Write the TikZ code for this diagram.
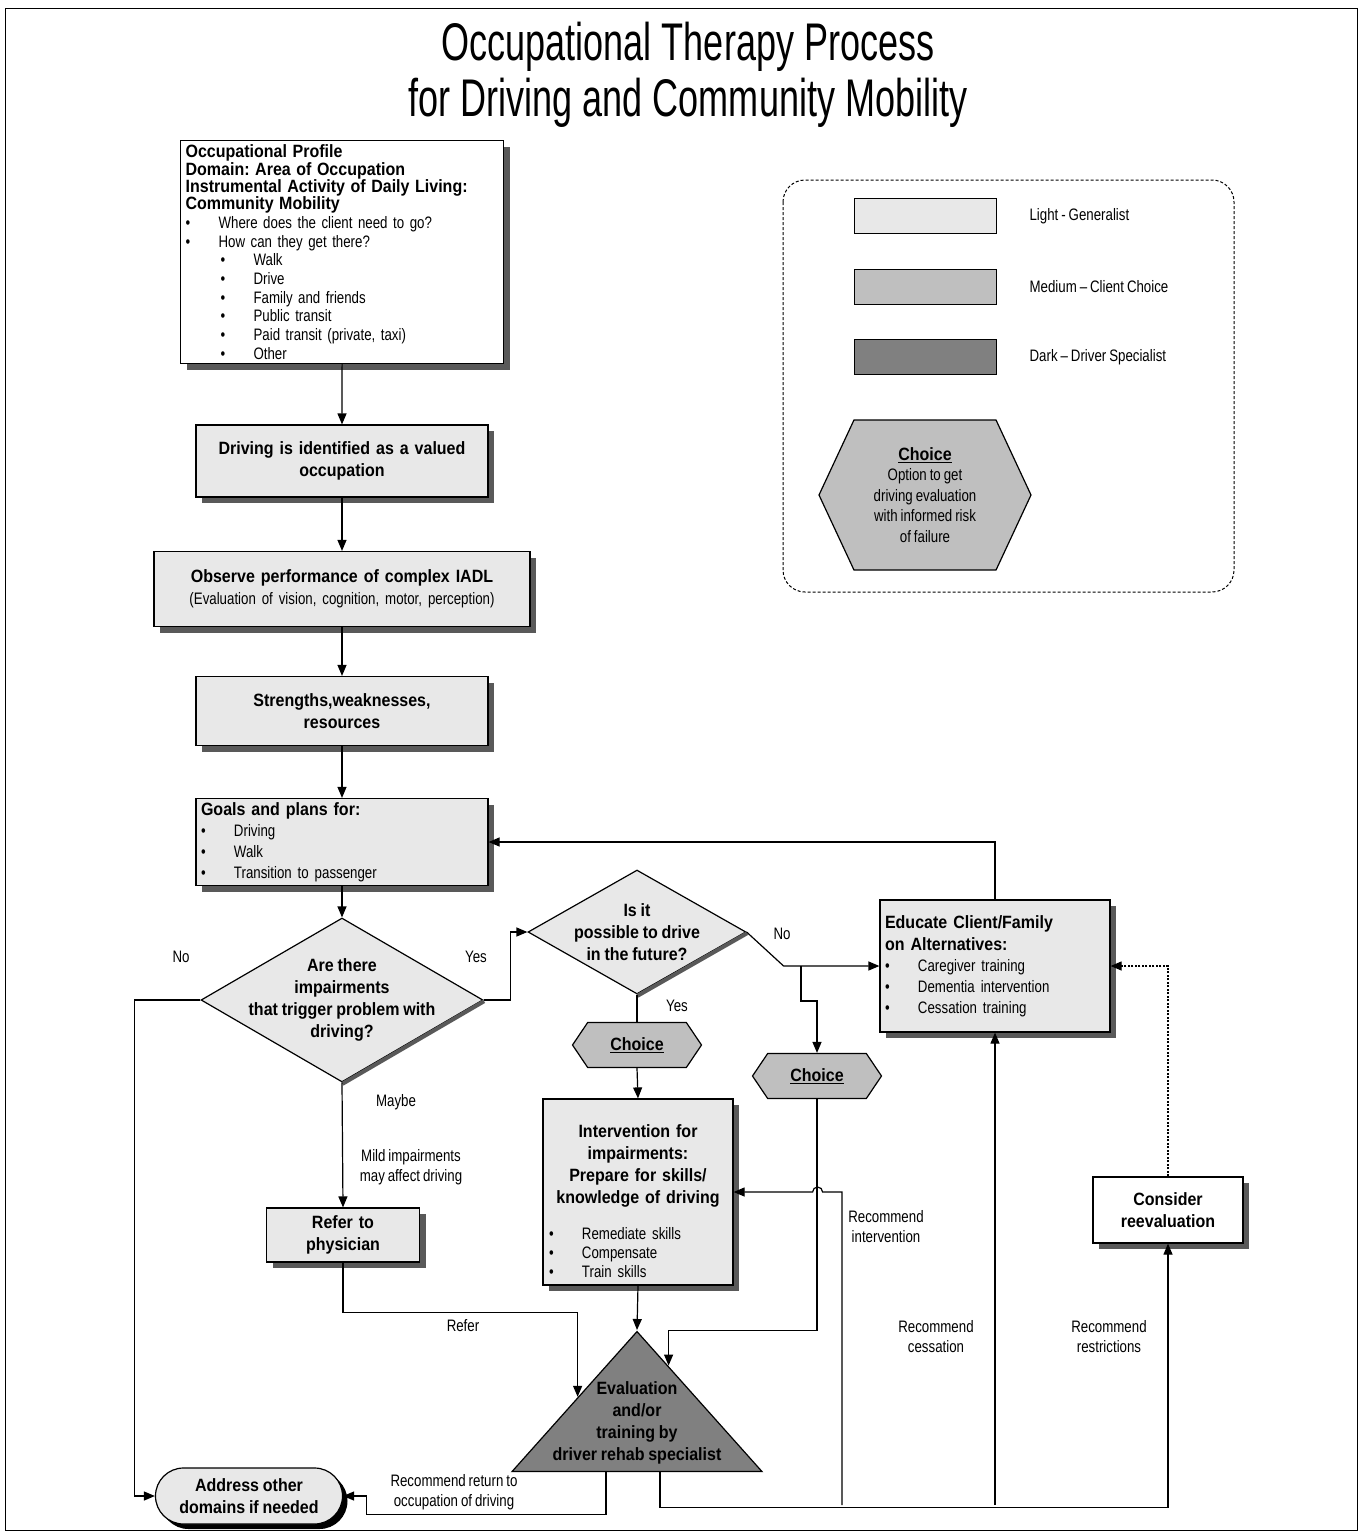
\documentclass[tikz,border=0pt]{standalone}
\usepackage{fontspec}
\setmainfont{Liberation Sans}[FakeStretch=0.8, WordSpace=0.8]
\newfontfamily\boldfam{Liberation Sans}[FakeStretch=0.9, WordSpace=0.85]
\newfontfamily\titlefont{Liberation Sans}[FakeStretch=0.68]
\usetikzlibrary{shapes.geometric,shapes.misc,shapes.symbols,shadows,calc,arrows.meta}
\frenchspacing

\newcommand{\regtxt}[1][19]{\rmfamily\mdseries\fontsize{16.6}{#1}\selectfont}
\newcommand{\boldtxt}[1][22]{\boldfam\bfseries\fontsize{17.8}{#1}\selectfont}
\newcommand{\bul}{\makebox[33pt][l]{\textbullet}}
\newcommand{\subbul}{\hspace*{35pt}\bul}

\begin{document}
\begin{tikzpicture}[x=1pt, y=-1pt, line width=1.2pt,
    every node/.style={font=\regtxt, inner sep=0pt},
    tip/.style={-{Stealth[length=11pt,width=9pt,inset=0pt]}},
    shade/.style={drop shadow={shadow xshift=6pt, shadow yshift=-6pt, fill=black!65, opacity=1}},
    edgeshade/.style={line width=4pt, black!65},
    box/.style={draw, fill=black!9, shade, align=center, font=\boldtxt, inner xsep=5pt, inner ysep=3pt},
    whitebox/.style={box, fill=white},
    decide/.style={diamond, draw, fill=black!9},
    choice/.style={signal, signal to=east and west, draw, fill=black!25, font=\boldtxt, align=center},
    lbl/.style={align=center, font={\regtxt[20]}},
    key/.style={draw, anchor=north west, minimum width=142, minimum height=35, line width=1pt}
  ]
  \useasboundingbox (0,0) rectangle (1362,1534);
  \draw[line width=1pt] (5,8) rectangle (1357,1530);

  \node[font={\titlefont\fontsize{53}{56}\selectfont}, align=center] (title) at (688,75)
    {Occupational Therapy Process\\for Driving and Community Mobility};

  % legend
  \draw[line width=1pt, dash pattern=on 3pt off 2pt, rounded corners=22] (783,180) rectangle (1234,592);
  \node[key, fill=black!9] (klight) at (854,198) {};
  \node[key, fill=black!25] (kmed) at (854,269) {};
  \node[key, fill=black!50] (kdark) at (854,339) {};
  \node[anchor=west] (tlight) at (1029,216) {Light - Generalist};
  \node[anchor=west] (tmed) at (1029,287) {Medium -- Client Choice};
  \node[anchor=west] (tdark) at (1029,357) {Dark -- Driver Specialist};
  \node[choice, minimum width=212, minimum height=150, signal pointer angle=130, font={\regtxt[20.5]}] (khex) at (925,495)
    {{\boldtxt\underline{Choice}}\\Option to get\\driving evaluation\\with informed risk\\of failure};

  % main column
  \node[whitebox, anchor=north west, minimum height=223, text width=313, align=left, font={\regtxt[18.7]}] (prof) at (180,140)
    {{\boldtxt[17.3]Occupational Profile\\Domain: Area of Occupation\\Instrumental Activity of Daily Living:\\Community Mobility\par}
     \bul Where does the client need to go?\\
     \bul How can they get there?\\
     \subbul Walk\\
     \subbul Drive\\
     \subbul Family and friends\\
     \subbul Public transit\\
     \subbul Paid transit (private, taxi)\\
     \subbul Other};
  \node[box, minimum width=292, minimum height=72, text width=280] (drv) at (342,461)
    {Driving is identified as a valued\\occupation};
  \node[box, minimum width=376, minimum height=75, text width=366] (obs) at (342,589)
    {Observe performance of complex IADL\\{\regtxt (Evaluation of vision, cognition, motor, perception)}};
  \node[box, minimum width=292, minimum height=69, text width=280] (str) at (342,711)
    {Strengths,weaknesses,\\resources};
  \node[box, minimum width=292, minimum height=87, text width=282, align=left] (goal) at (342,842)
    {Goals and plans for:\par{\regtxt[21]\bul Driving\\\bul Walk\\\bul Transition to passenger\par}};

  \node[decide, minimum width=282, minimum height=164] (imp) at (342,1000) {};
  \draw[edgeshade] ($(imp.east)+(0.5,1.2)$) -- ($(imp.south)+(0.5,1.2)$);
  \node[font=\boldtxt, align=center] (impt) at (imp) {Are there\\impairments\\that trigger problem with\\driving?};
  \node[decide, minimum width=218, minimum height=124] (fut) at (637,932) {};
  \draw[edgeshade] ($(fut.east)+(0.5,1.2)$) -- ($(fut.south)+(0.5,1.2)$);
  \node[font=\boldtxt, align=center] (futt) at (fut) {Is it\\possible to drive\\in the future?};

  \node[box, minimum width=230, minimum height=132, text width=220, align=left] (educ) at (995,966)
    {Educate Client/Family\\on Alternatives:\par{\regtxt[21]\bul Caregiver training\\\bul Dementia intervention\\\bul Cessation training\par}};

  \node[choice, minimum width=129, minimum height=45, signal pointer angle=112] (ch1) at (637,1045) {\underline{Choice}};
  \node[choice, minimum width=129, minimum height=45, signal pointer angle=112] (ch2) at (817,1076) {\underline{Choice}};

  \node[box, minimum width=190, minimum height=186] (intv) at (638,1192) {};
  \node[font=\boldtxt, text width=178, align=center] (intvt) at (638,1201)
    {Intervention for\\impairments:\\Prepare for skills/\\knowledge of driving\par\vspace{17pt}
     {\raggedright\regtxt\bul Remediate skills\\\bul Compensate\\\bul Train skills\par}};
  \node[box, minimum width=153, minimum height=54, text width=140] (ref) at (343,1235) {Refer to\\physician};
  \node[whitebox, minimum width=150, minimum height=66, text width=140] (cons) at (1168,1210) {Consider\\reevaluation};

  \node[isosceles triangle, isosceles triangle stretches, shape border rotate=90, minimum width=250, minimum height=140,
    draw, fill=black!50, anchor=apex] (evaltri) at (637,1330) {};
  \node[font=\boldtxt, align=center] (evalt) at (637,1423) {Evaluation\\and/or\\training by\\driver rehab specialist};

  \node[draw, rounded rectangle, fill=black!9, drop shadow={shadow xshift=5pt, shadow yshift=-5pt, fill=black, opacity=1},
    minimum width=187, minimum height=56, font=\boldtxt, align=center] (addr) at (249,1496) {Address other\\domains if needed};

  % labels
  \node[lbl] (lno) at (181,957) {No};
  \node[lbl] (lyes) at (476,957) {Yes};
  \node[lbl] (lno2) at (782,934) {No};
  \node[lbl] (lyes2) at (677,1006) {Yes};
  \node[lbl] (lmay) at (396,1102) {Maybe};
  \node[lbl] (lmild) at (411,1167) {Mild impairments\\may affect driving};
  \node[lbl] (lref) at (463,1326) {Refer};
  \node[lbl] (lret) at (454,1492) {Recommend return to\\occupation of driving};
  \node[lbl] (lint) at (886,1227) {Recommend\\intervention};
  \node[lbl] (lces) at (936,1337) {Recommend\\cessation};
  \node[lbl] (lres) at (1109,1337) {Recommend\\restrictions};

  % connectors
  \draw[tip] (prof.south) -- (drv.north);
  \draw[tip] (drv) -- (obs);
  \draw[tip] (obs) -- (str);
  \draw[tip] (str) -- (goal);
  \draw[tip] (goal) -- (imp.north);
  \draw[tip] (imp.west) -- ++(-66,0) |- (addr.west);
  \draw[tip] (imp.east) -- ++(27,0) |- (fut.west);
  \draw[tip] (imp.south) -- (ref.north);
  \draw[tip] (fut.east) -- ++(37,34) -- (educ.west);
  \coordinate (nobr) at (801,966);
  \draw[tip] (nobr) -- ++(0,35) -| (ch2.north);
  \draw (fut.south) -- (ch1.north);
  \draw[tip] (ch1.south) -- (intv.north);
  \draw[tip] (ch2.south) -- ++(0,231) -| ($(evaltri.apex)!0.25!(evaltri.right corner)$);
  \draw[tip] (intv.south) -- (evaltri.apex);
  \draw[tip] (ref.south) -- ++(0,50) -| ($(evaltri.apex)!0.47!(evaltri.left corner)$);
  \draw[tip] ($(evaltri.lower side)+(-31,0)$) -- ++(0,42) -| ($(addr.east)+(23,0)$) -- (addr.east);
  \draw[tip] ($(evaltri.lower side)+(23,0)$) -- ++(0,35) -| (cons.south);
  \coordinate (bint) at (842,1505);
  \coordinate (bces) at (995,1505);
  \draw[tip] (bint) |- ($(intv.east)+(89,0)$) arc[start angle=0, end angle=-180, radius=5] -- (intv.east);
  \draw[tip] (bces) -- (educ.south);
  \draw[tip, dash pattern=on 2pt off 1.5pt] (cons.north) |- (educ.east);
  \draw[tip] (educ.north) |- (goal.east);
\end{tikzpicture}
\end{document}
